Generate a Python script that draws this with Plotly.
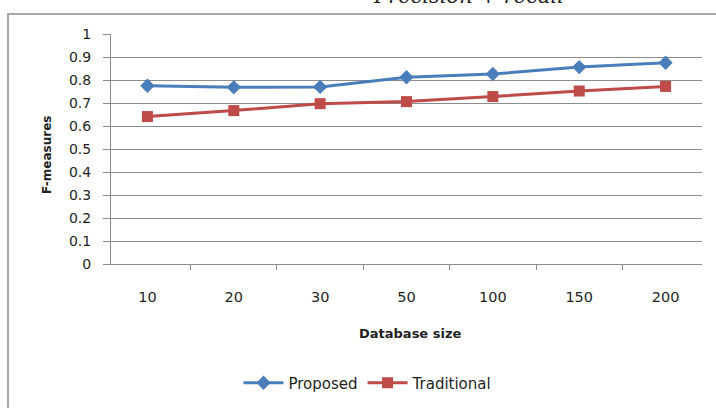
import plotly.graph_objects as go

# Database sizes (category axis) and F-measure values per method
db_sizes = ["10", "20", "30", "50", "100", "150", "200"]
proposed = [0.775, 0.768, 0.770, 0.812, 0.826, 0.856, 0.875]
traditional = [0.641, 0.667, 0.697, 0.706, 0.728, 0.752, 0.772]
y_ticks = [0, 0.1, 0.2, 0.3, 0.4, 0.5, 0.6, 0.7, 0.8, 0.9, 1]

W, H = 716, 408
L, R, T, B = 111, 14, 34, 144
pw, ph = W - L - R, H - T - B

def px_x(p):
    return (p - L) / pw

def px_y(p):
    return (H - B - p) / ph

font = "DejaVu Sans, Verdana, sans-serif"
blue = "#4A7EBB"
red = "#BE4B48"
grid = "#8C8C8C"
text_col = "#1f1f1f"

fig = go.Figure()
fig.add_trace(go.Scatter(
    x=db_sizes, y=proposed, name="Proposed", mode="lines+markers",
    line=dict(color=blue, width=3),
    marker=dict(symbol="diamond", size=11, color=blue),
))
fig.add_trace(go.Scatter(
    x=db_sizes, y=traditional, name="Traditional", mode="lines+markers",
    line=dict(color=red, width=3),
    marker=dict(symbol="square", size=11, color=red),
))

fig.update_layout(
    width=W, height=H,
    margin=dict(l=L, r=R, t=T, b=B, pad=0, autoexpand=False),
    paper_bgcolor="white", plot_bgcolor="white",
    font=dict(family=font, size=14, color=text_col),
    showlegend=True,
    legend=dict(orientation="h", x=px_x(368), y=px_y(383), xanchor="center",
                yanchor="middle", font=dict(size=15, color=text_col),
                itemwidth=40, bgcolor="rgba(0,0,0,0)"),
    xaxis=dict(
        type="category", showgrid=False, showline=True, linecolor=grid,
        linewidth=1, ticks="outside", ticklen=5, tickcolor=grid,
        tickson="boundaries", tickfont=dict(size=14.5),
        ticklabelstandoff=20, automargin=False,
        fixedrange=True,
    ),
    yaxis=dict(
        range=[0, 1], tickvals=y_ticks, ticktext=[f"{v:g}" for v in y_ticks],
        showgrid=True, gridcolor=grid, gridwidth=1,
        showline=True, linecolor=grid, linewidth=1,
        ticks="outside", ticklen=7, tickcolor=grid, tickfont=dict(size=14),
        ticklabelstandoff=9, automargin=False,
        zeroline=False,
        fixedrange=True,
    ),
)

# Axis titles
fig.add_annotation(text="<b>Database size</b>", xref="paper", yref="paper",
                   x=px_x(410), y=px_y(333), xanchor="center", yanchor="middle",
                   showarrow=False, font=dict(size=13, color=text_col))
fig.add_annotation(text="<b>F-measures</b>", xref="paper", yref="paper",
                   x=px_x(47), y=px_y(155), xanchor="center", yanchor="middle",
                   textangle=-90, showarrow=False,
                   font=dict(size=12, color=text_col))

# Chart frame
fig.add_shape(type="rect", xref="paper", yref="paper",
              x0=px_x(8), x1=px_x(730), y0=px_y(430), y1=px_y(14),
              line=dict(color="#A6A6A6", width=2), fillcolor="rgba(0,0,0,0)",
              layer="below")

# Formula text running off the top edge
fig.add_annotation(text="<i>Precision + recall</i>", xref="paper", yref="paper",
                   x=px_x(468), y=px_y(-4), xanchor="center", yanchor="middle",
                   showarrow=False,
                   font=dict(family="DejaVu Serif, Liberation Serif, serif",
                             size=21, color="#222"))

fig.write_html("out.html")
